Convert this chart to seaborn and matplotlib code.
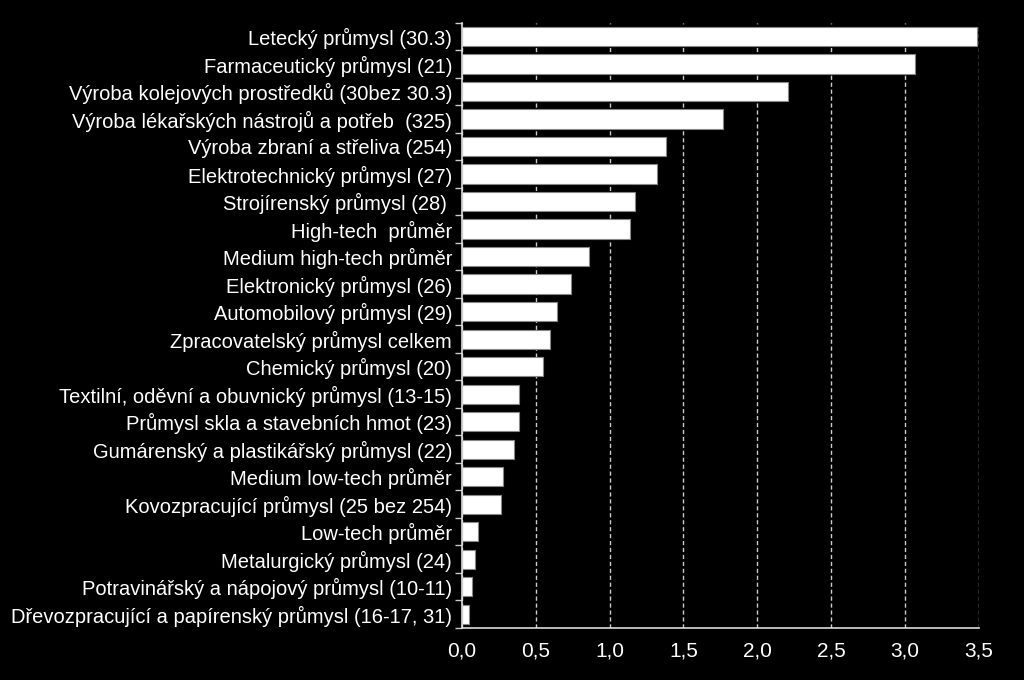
import matplotlib
matplotlib.use("Agg")
import matplotlib.pyplot as plt
import seaborn as sns
import pandas as pd
import numpy as np
from matplotlib.ticker import FixedLocator, MultipleLocator

categories = [
    "Letecký průmysl (30.3)",
    "Farmaceutický průmysl (21)",
    "Výroba kolejových prostředků (30bez 30.3)",
    "Výroba lékařských nástrojů a potřeb  (325)",
    "Výroba zbraní a střeliva (254)",
    "Elektrotechnický průmysl (27)",
    "Strojírenský průmysl (28) ",
    "High-tech  průměr",
    "Medium high-tech průměr",
    "Elektronický průmysl (26)",
    "Automobilový průmysl (29)",
    "Zpracovatelský průmysl celkem",
    "Chemický průmysl (20)",
    "Textilní, oděvní a obuvnický průmysl (13-15)",
    "Průmysl skla a stavebních hmot (23)",
    "Gumárenský a plastikářský průmysl (22)",
    "Medium low-tech průměr",
    "Kovozpracující průmysl (25 bez 254)",
    "Low-tech průměr",
    "Metalurgický průmysl (24)",
    "Potravinářský a nápojový průmysl (10-11)",
    "Dřevozpracující a papírenský průmysl (16-17, 31)",
]
values = [3.49, 3.07, 2.21, 1.77, 1.38, 1.32, 1.17, 1.14, 0.86, 0.74, 0.645,
          0.60, 0.55, 0.39, 0.39, 0.35, 0.28, 0.265, 0.11, 0.09, 0.068, 0.05]
x_ticks = [0.0, 0.5, 1.0, 1.5, 2.0, 2.5, 3.0, 3.5]
x_tick_labels = ["0,0", "0,5", "1,0", "1,5", "2,0", "2,5", "3,0", "3,5"]

df = pd.DataFrame({"kategorie": categories, "hodnota": values})

sns.set_theme(style="dark")
plt.rcParams["font.family"] = ["Liberation Sans", "DejaVu Sans"]

fig = plt.figure(figsize=(10.24, 6.8), dpi=100, facecolor="black")
ax = fig.add_axes([0.451, 0.0765, 0.505, 0.890])
ax.set_facecolor("black")

sns.barplot(data=df, x="hodnota", y="kategorie", orient="h", ax=ax,
            color="white", width=0.7, edgecolor="#888888", linewidth=0.8,
            saturation=1)

ax.set_xlim(0, 3.5)
ax.set_ylim(len(categories) - 0.5, -0.5)
ax.set_xlabel("")
ax.set_ylabel("")

ax.xaxis.set_major_locator(FixedLocator(x_ticks))
ax.set_xticklabels(x_tick_labels)
ax.tick_params(axis="x", colors="white", labelsize=15, length=0, pad=10)
ax.tick_params(axis="y", which="major", colors="white", labelsize=14.5, length=0, pad=7)
ax.yaxis.set_minor_locator(MultipleLocator(1, offset=0.5))
ax.tick_params(axis="y", which="minor", length=5, width=1, color="#cccccc", left=True)

for lbl in ax.get_yticklabels():
    lbl.set_color("white")

ax.grid(False)
ax.xaxis.grid(True, linestyle=(0, (3, 2)), color="#cccccc", linewidth=1.0)
ax.set_axisbelow(True)

for side in ["top", "right"]:
    ax.spines[side].set_visible(False)
for side in ["left", "bottom"]:
    ax.spines[side].set_visible(True)
    ax.spines[side].set_color("#dddddd")
    ax.spines[side].set_linewidth(1.2)

fig.savefig("out.png", dpi=100, facecolor="black")
